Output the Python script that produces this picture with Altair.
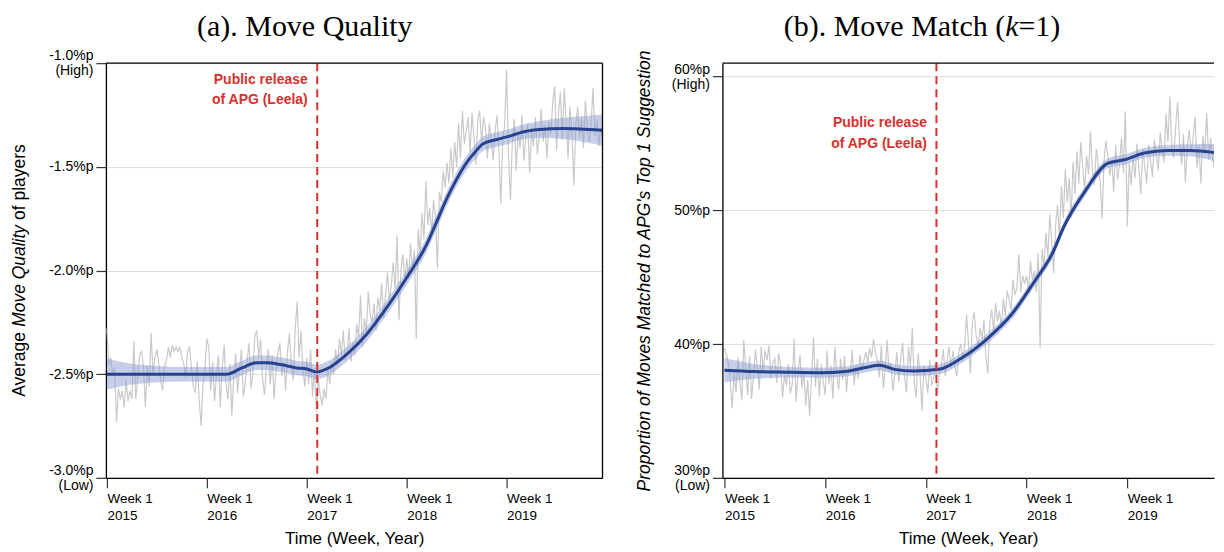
import altair as alt
import pandas as pd

# ---------------- data ----------------
# (a) Move Quality, weekly values (%p), Week 1 2015 onward
mq_2015 = [-2.28, -2.46, -2.42, -2.50, -2.47, -2.73, -2.57, -2.62, -2.58, -2.66,
           -2.53, -2.63, -2.58, -2.62, -2.34, -2.62, -2.52, -2.41, -2.39, -2.46,
           -2.66, -2.46, -2.56, -2.30, -2.50, -2.42, -2.38, -2.45, -2.53, -2.58,
           -2.46, -2.43, -2.37, -2.42, -2.36, -2.39, -2.37, -2.39, -2.37, -2.42,
           -2.45, -2.52, -2.39, -2.37, -2.47, -2.56, -2.59, -2.44, -2.62, -2.75,
           -2.55, -2.48]
mq_2016 = [-2.33, -2.37, -2.58, -2.44, -2.63, -2.50, -2.41, -2.66, -2.47, -2.36,
           -2.55, -2.62, -2.45, -2.70, -2.52, -2.40, -2.59, -2.48, -2.38, -2.61,
           -2.54, -2.43, -2.35, -2.57, -2.49, -2.31, -2.29, -2.42, -2.33, -2.52,
           -2.60, -2.46, -2.38, -2.55, -2.41, -2.62, -2.48, -2.40, -2.35, -2.51,
           -2.44, -2.58, -2.39, -2.30, -2.46, -2.53, -2.28, -2.15, -2.42, -2.29,
           -2.47, -2.56]
mq_2017 = [-2.42, -2.55, -2.38, -2.61, -2.47, -2.68, -2.52, -2.60, -2.65, -2.57,
           -2.62, -2.48, -2.55, -2.44, -2.50, -2.38, -2.46, -2.33, -2.41, -2.29,
           -2.43, -2.39, -2.28, -2.44, -2.35, -2.41, -2.26, -2.32, -2.12, -2.37,
           -2.23, -2.30, -2.10, -2.21, -2.25, -2.16, -2.29, -2.13, -2.19, -2.06,
           -2.23, -2.12, -2.01, -2.15, -2.07, -1.96, -2.09, -1.83, -2.24, -2.00,
           -1.92, -2.05]
mq_2018 = [-1.94, -2.04, -1.87, -1.99, -1.90, -2.33, -1.80, -1.92, -1.72, -1.85,
           -1.57, -1.78, -1.70, -1.82, -1.66, -1.74, -1.99, -1.62, -1.67, -1.52,
           -1.60, -1.48, -1.58, -1.41, -1.55, -1.38, -1.50, -1.29, -1.46, -1.23,
           -1.39, -1.33, -1.26, -1.43, -1.24, -1.35, -1.49, -1.27, -1.23, -1.38,
           -1.26, -1.31, -1.46, -1.29, -1.36, -1.47, -1.33, -1.25, -1.41, -1.68,
           -1.37, -1.30]
mq_2019 = [-1.03, -1.45, -1.66, -1.38, -1.27, -1.52, -1.33, -1.41, -1.25, -1.47,
           -1.36, -1.29, -1.53, -1.31, -1.40, -1.26, -1.44, -1.35, -1.22, -1.38,
           -1.30, -1.46, -1.28, -1.34, -1.19, -1.11, -1.42, -1.24, -1.14, -1.37,
           -1.12, -1.28, -1.46, -1.21, -1.33, -1.59, -1.30, -1.21, -1.36, -1.26,
           -1.41, -1.18, -1.32, -1.38, -1.29, -1.12, -1.35, -1.27, -1.40, -1.31,
           -1.37]

mq_smooth_year = [2015.00, 2015.25, 2015.50, 2015.75, 2016.00, 2016.20, 2016.35, 2016.50,
                  2016.60, 2016.75, 2016.90, 2017.00, 2017.10, 2017.20, 2017.40, 2017.60,
                  2017.80, 2018.00, 2018.20, 2018.30, 2018.40, 2018.50, 2018.60, 2018.70,
                  2018.76, 2018.90, 2019.03, 2019.13, 2019.33, 2019.56, 2019.73, 2019.96]
mq_smooth = [-2.50, -2.50, -2.50, -2.50, -2.50, -2.50, -2.47, -2.445,
             -2.445, -2.455, -2.47, -2.475, -2.49, -2.475, -2.404, -2.307,
             -2.179, -2.035, -1.874, -1.765, -1.655, -1.56, -1.48, -1.42,
             -1.39, -1.368, -1.352, -1.336, -1.320, -1.315, -1.317, -1.323]
mq_half = [0.075, 0.05, 0.04, 0.035, 0.035, 0.035, 0.035, 0.035,
           0.035, 0.035, 0.035, 0.035, 0.035, 0.035, 0.035, 0.035,
           0.035, 0.035, 0.035, 0.035, 0.035, 0.035, 0.035, 0.035,
           0.035, 0.035, 0.035, 0.035, 0.04, 0.05, 0.06, 0.075]

# (b) Move Match (k=1), weekly values (%p)
mm_2015 = [39.7, 39.2, 38.6, 37.3, 35.2, 37.8, 36.4, 39.0, 37.2, 35.8,
           40.3, 38.1, 36.2, 39.1, 35.9, 37.5, 39.6, 38.2, 36.6, 39.8,
           37.9, 39.5, 38.8, 39.9, 37.4, 38.6, 38.9, 37.1, 39.3, 38.4,
           36.0, 37.7, 36.9, 38.5, 36.3, 37.0, 40.4, 35.7, 37.8, 39.2,
           36.7, 38.0, 35.4, 37.3, 34.6, 37.6, 40.5, 36.8, 38.9, 36.1,
           38.5, 37.2]
mm_2016 = [36.2, 39.5, 37.0, 38.4, 35.9, 39.8, 37.7, 36.6, 38.9, 37.3,
           39.1, 36.4, 38.2, 37.8, 39.6, 36.9, 38.5, 37.4, 39.2, 38.0,
           38.8, 39.4, 38.6, 39.7, 39.0, 40.4, 39.3, 38.8, 37.5, 39.9,
           36.7, 38.1, 40.3, 37.9, 38.6, 36.5, 37.8, 39.4, 37.2, 38.9,
           40.1, 37.6, 36.4, 39.8, 38.3, 41.2, 37.1, 36.0, 39.3, 37.7,
           35.0, 38.4]
mm_2017 = [37.4, 36.3, 38.8, 36.9, 37.5, 38.6, 36.2, 37.9, 38.4, 39.6,
           37.6, 38.9, 39.8, 38.2, 39.5, 38.3, 37.6, 39.4, 40.0, 38.7,
           39.8, 42.2, 40.1, 37.8, 41.7, 42.4, 40.6, 39.9, 41.2, 40.4,
           41.8, 39.0, 37.8, 41.5, 42.6, 40.9, 43.1, 41.7, 42.5, 41.2,
           43.4, 42.1, 44.0, 43.3, 42.6, 44.8, 43.7, 44.2, 46.7, 43.9,
           45.1, 44.5]
mm_2018 = [45.1, 44.0, 46.2, 44.8, 45.5, 43.9, 46.8, 39.7, 47.1, 45.8,
           48.3, 46.5, 49.7, 47.6, 45.3, 48.9, 50.4, 47.9, 51.8, 49.4,
           53.1, 50.6, 52.4, 49.4, 53.6, 51.2, 54.4, 52.0, 55.1, 53.3,
           51.5, 54.1, 52.7, 55.9, 53.0, 51.9, 54.6, 53.4, 52.1, 49.4,
           53.7, 55.2, 54.0, 52.6, 53.8, 51.4, 54.9, 52.3, 53.5, 55.4,
           52.8, 57.4]
mm_2019 = [48.8, 53.6, 51.9, 54.2, 52.4, 55.0, 53.1, 51.2, 54.6, 53.3,
           52.0, 54.9, 53.7, 52.5, 55.3, 54.1, 53.0, 55.8, 54.4, 53.6,
           57.2, 55.1, 58.5, 54.7, 53.9, 56.3, 58.1, 55.0, 53.4, 55.7,
           52.1, 54.8, 56.0, 54.3, 55.5, 57.0, 53.2, 54.9, 52.0, 55.6,
           54.2, 57.3, 53.8, 55.4, 54.0, 53.1, 55.9, 54.5, 53.6, 54.8]

mm_smooth_year = [2015.00, 2015.30, 2015.60, 2015.94, 2016.20, 2016.40, 2016.54, 2016.69,
                  2016.88, 2017.13, 2017.36, 2017.62, 2017.85, 2018.08, 2018.25, 2018.38,
                  2018.58, 2018.81, 2018.97, 2019.17, 2019.40, 2019.63, 2019.83, 2019.94]
mm_smooth = [38.05, 37.95, 37.90, 37.86, 37.95, 38.25, 38.41, 38.11,
             37.99, 38.11, 38.98, 40.47, 42.21, 44.70, 46.69, 48.93,
             51.42, 53.53, 53.78, 54.28, 54.48, 54.48, 54.35, 54.20]
mm_half = [0.9, 0.55, 0.4, 0.37, 0.37, 0.37, 0.37, 0.37,
           0.37, 0.37, 0.37, 0.37, 0.37, 0.37, 0.37, 0.37,
           0.37, 0.37, 0.37, 0.37, 0.4, 0.45, 0.6, 0.75]

release_year = [2017.105]
year_ticks = [2015, 2016, 2017, 2018, 2019]
mq_ticks = [-3.0, -2.5, -2.0, -1.5, -1.0]
mm_ticks = [30, 40, 50, 60]

# ---------------- styling ----------------
FONT = "Liberation Sans"
SERIF = "Liberation Serif"
RED = "#d7312e"
BLUE = "#27438f"
BAND = "#8e9ed2"
GREY = "#c9c9c9"
W_L, W_R, H = 497, 492, 415
TITLE_Y = -27


def weekly_years(values):
    return [2015 + i / 52 for i in range(len(values))]


x_axis = alt.Axis(values=year_ticks,
                  labelExpr="['Week 1', format(datum.value, 'd')]",
                  labelAlign="left", labelBaseline="top", labelFontSize=13.5,
                  labelLineHeight=16.3, labelPadding=4, tickSize=10, grid=False,
                  labelFlush=False, labelOverlap=False,
                  title="Time (Week, Year)", titleFontSize=17, titlePadding=9)

mq_axis = alt.Axis(values=mq_ticks,
                   labelExpr="datum.value == -1 ? ['-1.0%p', '(High)'] : datum.value == -3 ? ['-3.0%p', '(Low)'] : '-' + format(abs(datum.value), '.1f') + '%p'",
                   labelOffset={"condition": {"test": "datum.value == -1 || datum.value == -3", "value": -7.5}, "value": 0},
                   labelFontSize=14, labelLineHeight=15, labelPadding=3, tickSize=10,
                   grid=True, title=None)

mm_axis = alt.Axis(values=mm_ticks,
                   labelExpr="datum.value == 60 ? ['60%p', '(High)'] : datum.value == 30 ? ['30%p', '(Low)'] : format(datum.value, 'd') + '%p'",
                   labelOffset={"condition": {"test": "datum.value == 60 || datum.value == 30", "value": -7.5}, "value": 0},
                   labelFontSize=14, labelLineHeight=15, labelPadding=3, tickSize=10,
                   grid=True,
                   title="Proportion of Moves Matched to APG's Top 1 Suggestion",
                   titleFontStyle="italic", titleFontSize=17.5, titlePadding=18)

one = pd.DataFrame({"a": [0]})


def make_panel(wk_vals, sm_years, sm_vals, sm_half, x_dom, y_dom, y_axis, width, ann_y, extra):
    raw = pd.DataFrame({"year": weekly_years(wk_vals), "v": wk_vals})
    sm = pd.DataFrame({"year": sm_years, "v": sm_vals,
                       "lo": [a - b for a, b in zip(sm_vals, sm_half)],
                       "hi": [a + b for a, b in zip(sm_vals, sm_half)]})
    xs = alt.Scale(domain=x_dom, nice=False, zero=False)
    ys = alt.Scale(domain=y_dom, nice=False, zero=False)
    x = alt.X("year:Q", scale=xs, axis=x_axis)
    y = alt.Y("v:Q", scale=ys, axis=y_axis)

    grey = alt.Chart(raw).mark_line(color=GREY, strokeWidth=1.2, clip=True).encode(x=x, y=y)
    band = alt.Chart(sm).mark_area(color=BAND, opacity=0.5, interpolate="monotone", clip=True).encode(
        x=x, y=alt.Y("lo:Q", scale=ys, axis=y_axis), y2="hi:Q")
    line = alt.Chart(sm).mark_line(color=BLUE, strokeWidth=3, interpolate="monotone", clip=True).encode(x=x, y=y)
    rel_df = pd.DataFrame({"year": release_year})
    rule = alt.Chart(rel_df).mark_rule(color=RED, strokeDash=[8, 5], strokeWidth=2).encode(x=x)
    ann = alt.Chart(rel_df).mark_text(text=["Public release", "of APG (Leela)"], align="right",
                                      baseline="middle", dx=-9.5, lineHeight=20.5, font=FONT,
                                      fontSize=14, fontWeight="bold", color=RED).encode(
        x=x, y=alt.value(ann_y))
    top = alt.Chart(one).mark_rule(color="black", strokeWidth=1.3).encode(
        x=alt.value(0), x2=alt.value(width), y=alt.value(0))
    layers = [grey, band, line, rule, ann, top] + extra
    return alt.layer(*layers).properties(width=width, height=H)


# left panel extras: right border, title, y-title (with italic part)
left_extra = [
    alt.Chart(one).mark_rule(color="black", strokeWidth=1.3).encode(
        x=alt.value(W_L), y=alt.value(0), y2=alt.value(H)),
    alt.Chart(one).mark_text(text="(a). Move Quality", font=SERIF, fontSize=30, align="center",
                             baseline="alphabetic", color="black").encode(
        x=alt.value(199), y=alt.value(TITLE_Y)),
    alt.Chart(one).mark_text(text="Average", font=FONT, fontSize=17.5, angle=270, align="left",
                             baseline="alphabetic", color="black").encode(
        x=alt.value(-81), y=alt.value(333.9)),
    alt.Chart(one).mark_text(text="Move Quality", font=FONT, fontSize=17.5, fontStyle="italic",
                             angle=270, align="left", baseline="alphabetic", color="black").encode(
        x=alt.value(-81), y=alt.value(263.9)),
    alt.Chart(one).mark_text(text="of players", font=FONT, fontSize=17.5, angle=270, align="left",
                             baseline="alphabetic", color="black").encode(
        x=alt.value(-81), y=alt.value(156.9)),
]

right_extra = [
    alt.Chart(one).mark_text(text="(b). Move Match (", font=SERIF, fontSize=30, align="right",
                             baseline="alphabetic", color="black").encode(
        x=alt.value(283), y=alt.value(TITLE_Y)),
    alt.Chart(one).mark_text(text="k", font=SERIF, fontSize=30, fontStyle="italic", align="left",
                             baseline="alphabetic", color="black").encode(
        x=alt.value(283), y=alt.value(TITLE_Y)),
    alt.Chart(one).mark_text(text="=1)", font=SERIF, fontSize=30, align="left",
                             baseline="alphabetic", color="black").encode(
        x=alt.value(296.3), y=alt.value(TITLE_Y)),
]

mq_weekly = mq_2015 + mq_2016 + mq_2017 + mq_2018 + mq_2019
mm_weekly = mm_2015 + mm_2016 + mm_2017 + mm_2018 + mm_2019

left = make_panel(mq_weekly, mq_smooth_year, mq_smooth, mq_half,
                  [2014.99, 2019.96], [-3.0, -1.0], mq_axis, W_L, 16.8, left_extra)
right = make_panel(mm_weekly, mm_smooth_year, mm_smooth, mm_half,
                   [2014.98, 2019.861], [30, 61], mm_axis, W_R, 60, right_extra)

chart = alt.hconcat(left, right, spacing=30).properties(
    padding={"left": 2, "top": 3, "right": 0, "bottom": 0}
).configure_view(stroke="transparent").configure_axis(
    labelFont=FONT, titleFont=FONT, labelColor="black", titleColor="black",
    domainColor="black", domainWidth=1.3, tickColor="#333333", tickWidth=1.2,
    gridColor="#dddddd", gridWidth=1, titleFontWeight="normal"
)

chart.save("out.html", embed_options={"renderer": "svg", "actions": False})
